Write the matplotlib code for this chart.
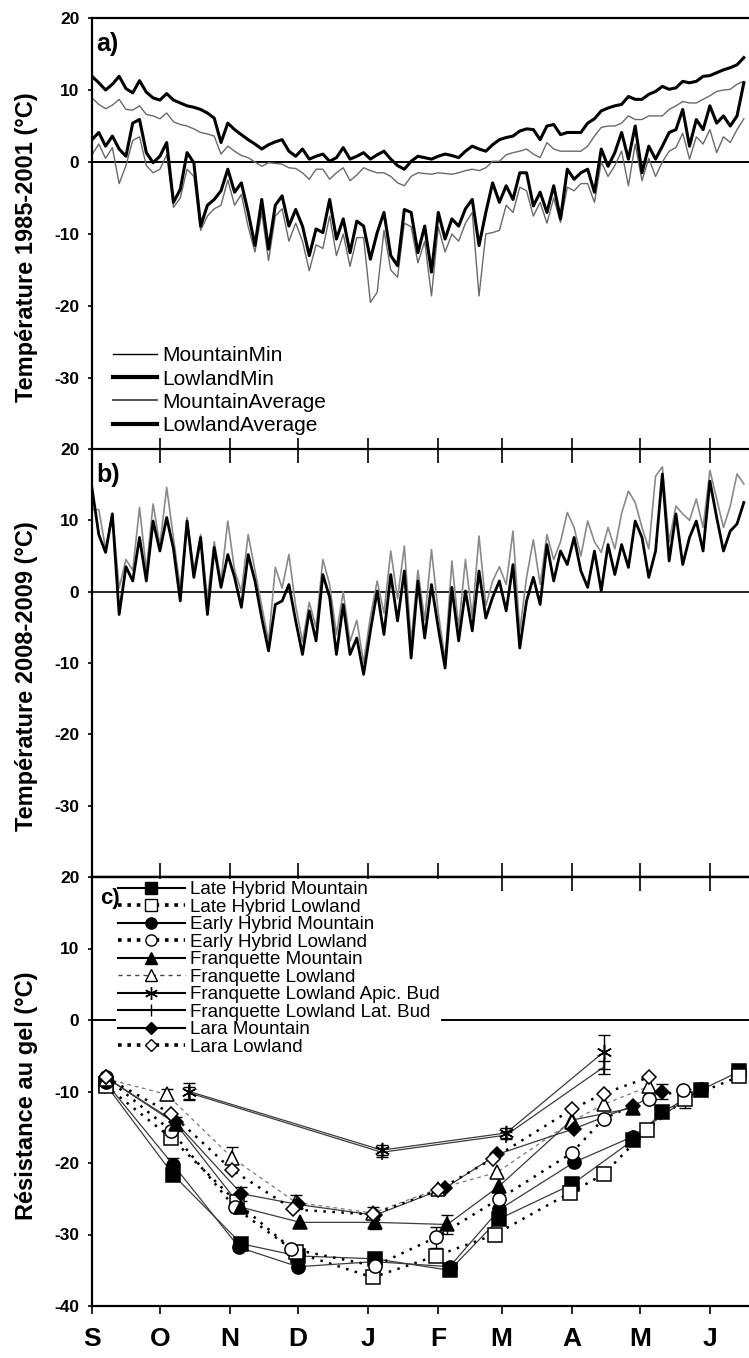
import numpy as np
import matplotlib
matplotlib.use('Agg')
import matplotlib.pyplot as plt
from matplotlib.lines import Line2D

plt.rcParams['font.family'] = ['Liberation Sans', 'DejaVu Sans']

# ---------------- data ----------------
month_labels = ['S', 'O', 'N', 'D', 'J', 'F', 'M', 'A', 'M', 'J']
month_days = [0, 30, 61, 91, 122, 153, 181, 212, 242, 273]
sample_step = 3  # days between samples (from 1 September)

# panel a : temperature 1985-2001
lowland_avg = [11.9, 11.0, 10.0, 10.8, 11.9, 10.2, 9.6, 11.3, 9.7, 8.9,
               8.6, 9.5, 8.6, 8.2, 7.8, 7.6, 7.3, 6.8, 6.1, 2.7,
               5.4, 4.5, 3.8, 3.1, 2.5, 1.8, 2.4, 2.8, 3.1, 1.5,
               0.8, 1.8, 0.4, 0.8, 1.1, 0.1, 0.6, 2.0, 0.4, 0.8,
               1.3, 0.4, 1.0, 1.5, 0.4, -0.5, -1.0, 0.1, 0.8, 0.6,
               0.4, 0.8, 1.1, 0.9, 0.6, 1.5, 2.2, 1.8, 1.5, 2.4,
               3.1, 3.4, 3.6, 4.3, 4.6, 4.5, 3.1, 5.0, 5.2, 3.8,
               4.1, 4.1, 4.1, 5.4, 6.0, 7.1, 7.5, 7.8, 8.0, 9.1,
               8.7, 8.7, 9.4, 9.8, 10.5, 10.1, 10.3, 11.2, 11.0, 11.2,
               11.9, 12.0, 12.4, 12.8, 13.1, 13.5, 14.5]
mountain_avg = [8.9, 8.0, 7.4, 7.9, 8.7, 7.3, 7.2, 7.8, 6.6, 6.4,
                6.0, 6.8, 5.6, 5.2, 5.0, 4.6, 4.1, 3.9, 3.6, 1.1,
                2.2, 1.5, 0.9, 0.6, 0.0, -0.6, -0.1, -0.2, -0.3, -0.8,
                -0.9, -1.5, -2.4, -1.0, -1.0, -2.4, -1.5, -0.8, -2.6, -1.8,
                -0.8, -1.2, -1.5, -1.5, -2.0, -2.9, -3.3, -2.0, -1.5, -1.6,
                -1.7, -1.5, -1.6, -1.7, -1.5, -1.2, -1.0, -1.2, -0.8, 0.1,
                0.1, 1.0, 1.3, 1.5, 1.8, 1.1, 0.6, 2.7, 1.8, 1.5,
                1.5, 1.5, 1.5, 2.2, 3.6, 4.8, 5.0, 5.0, 5.4, 6.4,
                5.9, 5.9, 6.4, 6.4, 6.4, 7.3, 7.8, 8.4, 8.2, 8.2,
                8.7, 9.2, 9.8, 10.0, 10.1, 10.8, 11.2]
lowland_min = [3.1, 4.1, 2.2, 3.6, 1.8, 0.8, 5.4, 5.9, 1.3, -0.1,
               0.8, 2.7, -5.6, -3.8, 1.3, -0.1, -8.9, -6.0, -5.2, -4.0,
               -1.0, -4.2, -2.9, -7.0, -11.6, -5.2, -12.1, -6.0, -4.7, -8.9,
               -6.6, -8.9, -13.0, -9.3, -9.8, -5.2, -10.7, -7.9, -12.6, -8.2,
               -8.9, -13.5, -9.8, -7.0, -13.0, -14.4, -6.6, -7.0, -12.6, -8.9,
               -15.3, -7.0, -10.7, -7.9, -8.9, -6.5, -5.2, -11.6, -7.0, -2.9,
               -5.6, -3.3, -5.2, -1.5, -1.5, -6.1, -4.2, -7.0, -3.3, -7.9,
               -1.0, -2.4, -1.5, -1.0, -4.2, 1.8, -0.6, 1.3, 4.1, 0.4,
               5.0, -1.5, 2.2, 0.4, 2.2, 4.1, 4.5, 7.3, 2.2, 5.9,
               4.5, 7.8, 5.4, 6.4, 5.0, 6.4, 11.0]
mountain_min = [1.0, 2.5, 0.5, 2.0, -3.0, -0.5, 3.0, 3.5, -0.5, -1.5,
                -1.0, 1.0, -6.3, -5.0, -1.0, -2.0, -9.5, -7.5, -6.5, -6.0,
                -2.5, -6.0, -4.5, -9.0, -12.5, -7.0, -13.7, -7.5, -6.5, -11.0,
                -8.5, -11.0, -15.1, -11.5, -12.0, -7.5, -13.0, -10.0, -14.5, -10.5,
                -10.5, -19.5, -18.1, -9.5, -15.0, -16.0, -8.5, -9.0, -14.0, -11.0,
                -18.6, -9.0, -12.5, -10.0, -11.0, -8.5, -7.0, -18.6, -10.0, -9.8,
                -9.5, -6.0, -7.0, -3.5, -4.0, -7.5, -5.6, -8.5, -5.0, -8.4,
                -3.5, -4.0, -3.0, -3.0, -5.6, 0.0, -2.0, -0.5, 1.5, -3.3,
                2.5, -2.6, 0.5, -2.0, 0.0, 1.5, 2.0, 4.0, 0.4, 3.5,
                2.5, 4.5, 1.3, 3.5, 2.7, 4.5, 6.0]

# panel b : temperature 2008-2009
b_black = [14.5, 8.0, 5.5, 10.9, -3.2, 3.5, 1.5, 7.6, 1.5, 9.9,
           5.7, 10.4, 6.0, -1.3, 9.9, 2.0, 7.6, -3.2, 6.2, 0.6,
           5.2, 2.0, -2.2, 5.2, 1.5, -3.7, -8.3, -1.8, -1.3, 1.0,
           -4.1, -8.8, -2.7, -6.9, 2.4, -0.8, -8.8, -1.8, -8.8, -6.5,
           -11.6, -5.5, 0.1, -6.0, 2.4, -4.1, 2.9, -9.3, 1.5, -6.5,
           1.0, -5.1, -10.7, 0.6, -6.9, 0.1, -5.5, 2.9, -3.7, -0.8,
           1.5, -2.7, 3.8, -7.9, -1.3, 2.0, -1.8, 6.6, 1.5, 5.7,
           3.8, 7.6, 2.9, 0.6, 5.7, 0.1, 6.6, 2.4, 6.6, 3.4,
           9.9, 7.6, 2.0, 5.7, 16.5, 4.3, 10.9, 3.8, 7.6, 9.9,
           5.7, 15.5, 10.4, 5.7, 8.5, 9.5, 12.5]
b_grey = [11.5, 11.5, 6.0, 11.0, 0.5, 4.5, 3.0, 11.8, 3.0, 12.3,
          6.5, 14.6, 7.5, 0.5, 10.4, 3.0, 8.0, -1.0, 7.0, 1.5,
          9.9, 3.0, 0.0, 8.0, 3.0, -2.0, -7.0, 3.4, 0.5, 5.2,
          -2.0, -7.0, -1.5, -5.0, 4.5, 1.0, -6.0, 0.0, -7.0, -4.0,
          -10.0, -3.5, 1.5, -3.0, 5.7, -1.0, 6.4, -7.0, 3.0, -4.0,
          5.9, -3.0, -9.5, 4.3, -5.0, 4.5, -3.5, 7.8, -2.0, 1.5,
          3.5, 1.0, 8.5, -5.5, 2.0, 7.3, 1.0, 8.0, 4.5, 7.0,
          11.1, 9.0, 5.0, 9.9, 7.0, 5.5, 9.0, 6.0, 11.0, 14.1,
          12.5, 9.0, 6.0, 16.2, 17.5, 7.0, 12.0, 10.9, 10.0, 13.0,
          9.0, 17.0, 13.0, 9.0, 12.0, 16.5, 15.1]

# panel c : frost resistance
lhm_days = [6, 36, 66, 91, 125, 158, 180, 212, 239, 252, 269, 286]
lhm_vals = [-9.0, -21.7, -31.3, -33.0, -33.4, -35.0, -27.8, -23.0, -16.8, -12.9, -9.8, -7.2]
lhm_err = [0, 0, 0, 0, 0, 0, 0, 0, 0, 0, 0, 0]
lhl_days = [6, 35, 64, 90, 124, 152, 178, 211, 226, 245, 262, 286]
lhl_vals = [-9.2, -16.5, -25.5, -32.5, -36.0, -33.0, -30.0, -24.2, -21.6, -15.4, -11.0, -7.9]
lhl_err = [0, 0, 0, 0, 0, 0, 0, 0, 0, 0, 1.3, 0]
ehm_days = [6, 36, 65, 91, 125, 158, 180, 213, 239, 269]
ehm_vals = [-8.7, -20.3, -31.8, -34.5, -33.8, -34.5, -26.5, -19.9, -16.3, -9.6]
ehm_err = [0, 1.0, 0, 0, 0, 0, 0, 0, 0, 0]
ehl_days = [6, 35, 63, 88, 125, 152, 180, 212, 226, 246, 261]
ehl_vals = [-8.0, -15.5, -26.2, -32.0, -34.4, -30.4, -25.0, -18.6, -13.8, -11.0, -9.8]
ehl_err = [0, 0, 0, 0, 0, 1.5, 0, 0, 0, 0, 0]
fm_days = [6, 37, 66, 92, 125, 157, 180, 212, 239]
fm_vals = [-8.0, -14.5, -26.2, -28.3, -28.3, -28.6, -23.2, -14.0, -12.3]
fm_err = [0, 1.0, 0, 0, 1.0, 1.3, 0, 0, 0]
fl_days = [6, 33, 62, 90, 124, 153, 179, 212, 226, 246]
fl_vals = [-8.2, -10.4, -19.3, -25.5, -27.0, -23.6, -21.3, -14.2, -11.8, -9.3]
fl_err = [0, 0.8, 1.5, 1.0, 0.8, 0, 0, 0, 0, 0]
fla_days = [43, 128, 183, 226]
fla_vals = [-10.0, -18.2, -15.8, -4.5]
fla_err = [1.2, 0.7, 0.7, 2.4]
fll_days = [43, 128, 183, 226]
fll_vals = [-10.2, -18.5, -16.1, -6.6]
fll_err = [0.8, 0.6, 0.5, 0.9]
lm_days = [6, 37, 66, 91, 125, 156, 179, 213, 239, 252]
lm_vals = [-8.0, -14.3, -24.3, -25.8, -27.3, -23.5, -18.8, -15.2, -12.0, -10.0]
lm_err = [0, 0, 1.0, 0, 0, 0, 0, 0, 0, 1.0]
ll_days = [6, 35, 62, 89, 124, 153, 177, 212, 226, 246]
ll_vals = [-8.0, -13.1, -21.0, -26.5, -27.2, -23.8, -19.4, -12.5, -10.3, -8.0]
ll_err = [0, 0, 0, 0, 0, 0, 0, 0, 0, 0]

# ---------------- figure ----------------
W_PX, H_PX = 749, 1358
fig = plt.figure(figsize=(W_PX / 100, H_PX / 100), dpi=100)
left = 92 / W_PX
width = (771 - 92) / W_PX


def box(top_px, bot_px):
    return [left, 1 - bot_px / H_PX, width, (bot_px - top_px) / H_PX]


axa = fig.add_axes(box(18, 450))
axb = fig.add_axes(box(449, 877))
axc = fig.add_axes(box(877, 1306))

tick_font = dict(fontsize=12.5, fontweight='bold')
ylab_font = dict(fontsize=17, fontweight='bold')

for ax in (axa, axb, axc):
    ax.set_xlim(0, 300)
    ax.set_ylim(-40, 20)
    ax.spines['right'].set_visible(False)
    for s in ('left', 'top', 'bottom'):
        ax.spines[s].set_linewidth(1.6)
    ax.set_xticks(month_days)
    ax.tick_params(axis='y', direction='out', length=3, width=1.2, pad=6)

days_ab = np.arange(len(lowland_avg)) * sample_step

# ---- panel a
axa.axhline(0, color='black', lw=1.4, zorder=1)
axa.plot(days_ab, mountain_min, color='#6a6a6a', lw=1.0, zorder=2)
axa.plot(days_ab, mountain_avg, color='#6a6a6a', lw=1.0, zorder=2)
axa.plot(days_ab, lowland_min, color='black', lw=2.2, zorder=3)
axa.plot(days_ab, lowland_avg, color='black', lw=2.2, zorder=3)
axa.set_yticks([-30, -20, -10, 0, 10, 20])
axa.set_yticklabels([str(v) for v in [-30, -20, -10, 0, 10, 20]], **tick_font)
axa.tick_params(axis='x', direction='in', length=9, width=1.2, bottom=True, top=False,
                labelbottom=False)
axa.set_ylabel('Température 1985-2001 (°C)', **ylab_font)
axa.yaxis.set_label_coords(-0.08, 0.47)
axa.text(0.006, 0.968, 'a)', transform=axa.transAxes, fontsize=18, fontweight='bold',
         va='top', ha='left')
h_a = [Line2D([], [], color='black', lw=1.0),
       Line2D([], [], color='black', lw=3.0),
       Line2D([], [], color='#444444', lw=1.3),
       Line2D([], [], color='black', lw=3.0)]
axa.legend(h_a, ['MountainMin', 'LowlandMin', 'MountainAverage', 'LowlandAverage'],
           loc='lower left', bbox_to_anchor=(0.028, 0.03), frameon=False,
           fontsize=15, handlelength=2.1, handletextpad=0.25, labelspacing=0.2,
           borderpad=0.1, borderaxespad=0)

# ---- panel b
axb.axhline(0, color='black', lw=1.2, zorder=1)
axb.plot(days_ab, b_grey, color='#8a8a8a', lw=1.2, zorder=2)
axb.plot(days_ab, b_black, color='black', lw=2.0, zorder=3)
axb.set_yticks([-30, -20, -10, 0, 10, 20])
axb.set_yticklabels([str(v) for v in [-30, -20, -10, 0, 10, 20]], **tick_font)
axb.tick_params(axis='x', direction='in', length=10, width=1.2, bottom=True, top=True,
                labelbottom=False)
axb.set_ylabel('Température 2008-2009 (°C)', **ylab_font)
axb.yaxis.set_label_coords(-0.08, 0.47)
axb.text(0.006, 0.968, 'b)', transform=axb.transAxes, fontsize=18, fontweight='bold',
         va='top', ha='left')

# ---- panel c
axc.axhline(0, color='black', lw=1.4, zorder=1)
solid = dict(color='#3c3c3c', lw=0.9, ls='-')
dotted = dict(color='black', lw=1.8, ls=(0, (1, 2.6)))
dashed = dict(color='#777777', lw=0.9, ls=(0, (3, 3)))
series = [
    (lhm_days, lhm_vals, lhm_err, 's', 'black', 9.5, solid),
    (lhl_days, lhl_vals, lhl_err, 's', 'white', 9.5, dotted),
    (ehm_days, ehm_vals, ehm_err, 'o', 'black', 9.5, solid),
    (ehl_days, ehl_vals, ehl_err, 'o', 'white', 9.5, dotted),
    (fm_days, fm_vals, fm_err, '^', 'black', 9.5, solid),
    (fl_days, fl_vals, fl_err, '^', 'white', 9.5, dashed),
    (fla_days, fla_vals, fla_err, (6, 2, 0), 'black', 11, solid),
    (fll_days, fll_vals, fll_err, '|', 'black', 11, solid),
    (lm_days, lm_vals, lm_err, 'D', 'black', 7.5, solid),
    (ll_days, ll_vals, ll_err, 'D', 'white', 7.5, dotted),
]
for d, v, e, mk, fc, ms, lst in series:
    d = np.asarray(d, float)
    v = np.asarray(v, float)
    e = np.asarray(e, float)
    axc.plot(d, v, zorder=2, **lst)
    m = e > 0
    if m.any():
        axc.errorbar(d[m], v[m], yerr=e[m], fmt='none', ecolor='black', elinewidth=1.0,
                     capsize=4.5, capthick=1.0, zorder=3)
    axc.plot(d, v, ls='none', marker=mk, ms=ms, mfc=fc, mec='black', mew=1.1, zorder=4)

axc.set_yticks([-40, -30, -20, -10, 0, 10, 20])
axc.set_yticklabels([str(v) for v in [-40, -30, -20, -10, 0, 10, 20]], **tick_font)
axc.tick_params(axis='x', direction='out', length=6, width=1.2, pad=9)
axc.set_xticklabels(month_labels, fontsize=19, fontweight='bold')
sec = axc.secondary_xaxis('top')
sec.set_xticks(month_days)
sec.tick_params(direction='in', length=10, width=1.2, labeltop=False)
sec.spines['top'].set_linewidth(1.6)
axc.set_ylabel('Résistance au gel (°C)', **ylab_font)
axc.yaxis.set_label_coords(-0.08, 0.49)

leg_lab = ['Late Hybrid Mountain', 'Late Hybrid Lowland', 'Early Hybrid Mountain',
           'Early Hybrid Lowland', 'Franquette Mountain', 'Franquette Lowland',
           'Franquette Lowland Apic. Bud', 'Franquette Lowland Lat. Bud',
           'Lara Mountain', 'Lara Lowland']
leg_solid = dict(color='black', lw=1.5, ls='-')
leg_dot = dict(color='black', lw=2.6, ls=(0, (1, 1.6)))
leg_dash = dict(color='#444444', lw=1.0, ls=(0, (3, 3)))
handles = []
for (d, v, e, mk, fc, ms, lst), lab in zip(series, leg_lab):
    if lst is solid:
        st = leg_solid
    elif lst is dotted:
        st = leg_dot
    else:
        st = leg_dash
    handles.append(Line2D([], [], marker=mk, ms=ms * 0.85, mfc=fc, mec='black', mew=1.0, **st))
leg = axc.legend(handles, leg_lab, loc='upper left', bbox_to_anchor=(0.035, 0.995),
                 frameon=True, fancybox=False, framealpha=1.0, facecolor='white',
                 edgecolor='none', fontsize=13.5, handlelength=3.6, handletextpad=0.25,
                 labelspacing=0.02, borderpad=0.1, borderaxespad=0)
leg.set_zorder(5)
axc.text(0.012, 0.975, 'c)', transform=axc.transAxes, fontsize=16, fontweight='bold',
         va='top', ha='left', zorder=6)

fig.savefig('out.png', dpi=100)
